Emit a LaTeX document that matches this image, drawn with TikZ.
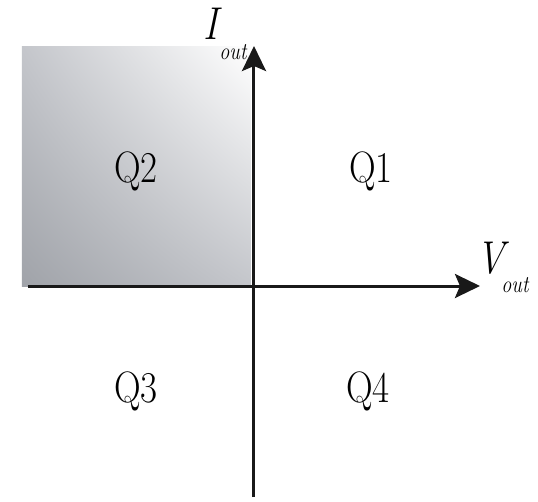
\documentclass[tikz,border=0pt]{standalone}
\usetikzlibrary{arrows.meta,shadings}
\definecolor{steel}{RGB}{160,163,169}
\definecolor{mist}{RGB}{196,198,203}
\tikzset{
  x=1pt,y=1pt,
  >={Stealth[length=25pt,width=24pt,inset=5pt]},
  axis/.style={->,line width=3pt,draw=black!90},
  quad/.style={font=\fontsize{44}{48}\selectfont,inner sep=0pt,anchor=base,
    xscale=0.84,transform shape},
  sym/.style={font=\fontsize{46}{50}\selectfont\itshape,inner sep=0pt,anchor=base,
    xscale=0.84,transform shape},
  sub/.style={font=\fontsize{24}{26}\selectfont\itshape,inner sep=0pt,anchor=base,
    xscale=0.84,transform shape},
}
\begin{document}
\begin{tikzpicture}
  \useasboundingbox (-254,-215) rectangle (284,286);
  % shaded quadrant
  \shade[upper left=mist,upper right=white,lower left=steel,lower right=mist]
    (-232,0) rectangle (-3,239);
  \coordinate (o) at (0,0);
  \coordinate (xs) at (-226,0);
  \coordinate (xe) at (226,0);
  \coordinate (ys) at (0,-211);
  \coordinate (ye) at (0,240);
  \draw[axis] (xs) -- (xe);
  \draw[axis] (ys) -- (ye);
  % labels
  \node[sym] (iname) at (-43,246) {I};
  \node[sub] (isub) at (-21,226) {out};
  \node[sym] (vname) at (237,13) {V};
  \node[sub] (vsub) at (261,-6) {out};
  \node[quad] (q1) at (117,104) {Q1};
  \node[quad] (q2) at (-118,104) {Q2};
  \node[quad] (q3) at (-118,-116) {Q3};
  \node[quad] (q4) at (114,-116) {Q4};
\end{tikzpicture}
\end{document}
